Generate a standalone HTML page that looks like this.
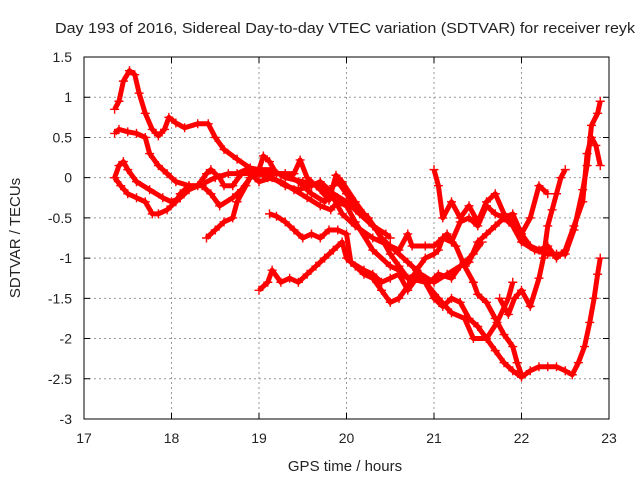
<!DOCTYPE html>
<html><head><meta charset="utf-8">
<style>
html,body{margin:0;padding:0;background:#fff;}
svg text{font-family:"Liberation Sans",sans-serif;fill:#222;}
</style></head>
<body>
<svg id="chart" width="640" height="480" viewBox="0 0 640 480" xmlns="http://www.w3.org/2000/svg">
<rect width="640" height="480" fill="#fff"/>
<text x="345" y="33" font-size="14.5" text-anchor="middle" textLength="580" lengthAdjust="spacingAndGlyphs">Day 193 of 2016, Sidereal Day-to-day VTEC variation (SDTVAR) for receiver reyk</text>
<g id="grid"></g>
<g id="axes"></g>
<g id="series"></g>
<text x="345" y="471" font-size="15" text-anchor="middle">GPS time / hours</text>
<text transform="translate(20,238) rotate(-90)" font-size="15" text-anchor="middle">SDTVAR / TECUs</text>
</svg>
<script>
const xTicks = [17,18,19,20,21,22,23];
const yTicks = [1.5,1,0.5,0,-0.5,-1,-1.5,-2,-2.5,-3];
const yTickLabels = ["1.5","1","0.5","0","-0.5","-1","-1.5","-2","-2.5","-3"];
const track1 = [[17.35,0.85],[17.4,0.95],[17.45,1.2],[17.52,1.33],[17.58,1.28],[17.63,1.05],[17.7,0.8],[17.78,0.6],[17.85,0.52],[17.92,0.6],[17.97,0.75],[18.05,0.68],[18.15,0.62],[18.3,0.67],[18.42,0.67],[18.5,0.5],[18.6,0.35],[18.75,0.23],[18.9,0.12],[19.0,0.1],[19.05,0.27],[19.12,0.2],[19.2,0.05],[19.4,0.05],[19.47,0.22],[19.55,0.0],[19.7,-0.15],[19.8,-0.28],[19.88,0.03],[19.95,-0.05],[20.1,-0.3],[20.2,-0.45],[20.35,-0.65],[20.5,-0.95],[20.6,-1.1],[20.7,-1.25],[20.9,-1.3],[21.05,-1.5],[21.2,-1.68],[21.35,-1.75],[21.45,-2.0],[21.6,-2.0],[21.72,-1.8],[21.85,-1.5],[21.9,-1.3]];
const track2 = [[17.35,0.55],[17.4,0.6],[17.5,0.57],[17.6,0.55],[17.7,0.5],[17.75,0.3],[17.85,0.15],[17.95,0.05],[18.05,-0.05],[18.2,-0.1],[18.35,-0.1],[18.45,-0.2],[18.55,-0.35],[18.7,-0.25],[18.8,-0.15],[18.9,0.0],[19.0,0.05],[19.2,0.05],[19.3,0.05],[19.45,-0.05],[19.6,-0.2],[19.75,-0.3],[19.85,-0.1],[19.9,-0.05],[20.0,-0.2],[20.1,-0.35],[20.25,-0.5],[20.4,-0.75],[20.55,-0.9],[20.7,-1.05],[20.85,-1.2],[21.0,-1.3],[21.15,-1.2],[21.3,-1.1],[21.45,-0.95],[21.55,-0.8]];
const track3 = [[17.35,0.0],[17.4,0.15],[17.45,0.2],[17.5,0.1],[17.6,-0.05],[17.75,-0.15],[17.9,-0.25],[18.0,-0.3],[18.1,-0.25],[18.2,-0.15],[18.35,-0.08],[18.5,0.0],[18.65,0.05],[18.75,0.05],[18.85,0.1],[19.0,0.1],[19.15,0.1],[19.3,0.0],[19.5,-0.05],[19.7,-0.1],[19.85,-0.25],[19.95,-0.45],[20.1,-0.6],[20.3,-0.75],[20.5,-0.85],[20.6,-0.9],[20.7,-0.7],[20.75,-0.85],[20.9,-0.85],[21.0,-0.85],[21.1,-0.75],[21.2,-0.8],[21.3,-0.55],[21.4,-0.5],[21.5,-0.6],[21.6,-0.35],[21.7,-0.45],[21.8,-0.5],[21.9,-0.45],[22.0,-0.7],[22.1,-0.85],[22.2,-0.9],[22.3,-0.85],[22.4,-1.0],[22.5,-0.9],[22.6,-0.6],[22.7,-0.3],[22.75,0.3],[22.8,0.5],[22.85,0.4],[22.9,0.15]];
const track4 = [[17.35,0.0],[17.42,-0.1],[17.5,-0.2],[17.6,-0.25],[17.7,-0.3],[17.78,-0.45],[17.85,-0.45],[17.95,-0.4],[18.05,-0.3],[18.1,-0.2],[18.2,-0.1],[18.3,-0.1],[18.4,0.05],[18.45,0.1],[18.55,0.0],[18.6,-0.1],[18.7,-0.1],[18.8,0.05],[18.9,0.05],[19.0,-0.05],[19.15,0.0],[19.3,-0.1],[19.45,-0.15],[19.6,-0.1],[19.7,-0.05],[19.85,-0.2],[20.0,-0.3],[20.15,-0.45],[20.3,-0.6],[20.45,-0.7],[20.5,-0.75]];
const track5 = [[18.4,-0.75],[18.5,-0.65],[18.6,-0.55],[18.7,-0.5],[18.75,-0.3],[18.85,-0.1],[18.92,0.05],[19.0,0.05],[19.1,0.0],[19.25,-0.05],[19.4,-0.15],[19.55,-0.25],[19.7,-0.35],[19.82,-0.4],[19.9,-0.3],[20.0,-0.35],[20.1,-0.55],[20.3,-0.9],[20.5,-1.1],[20.6,-1.15],[20.7,-1.25],[20.8,-1.2],[20.95,-1.3],[21.05,-1.2],[21.2,-1.25],[21.3,-1.1],[21.4,-1.05],[21.5,-0.8],[21.6,-0.7],[21.7,-0.6],[21.8,-0.5],[21.9,-0.6],[22.0,-0.8],[22.15,-0.9],[22.3,-0.95],[22.4,-0.95],[22.5,-0.95],[22.6,-0.65],[22.7,-0.15],[22.75,0.15],[22.8,0.65],[22.87,0.8],[22.9,0.95]];
const track6 = [[19.12,-0.45],[19.2,-0.48],[19.3,-0.55],[19.4,-0.65],[19.5,-0.75],[19.6,-0.7],[19.7,-0.75],[19.8,-0.65],[19.9,-0.65],[20.0,-0.7],[20.05,-1.05],[20.2,-1.15],[20.3,-1.2],[20.4,-1.3],[20.5,-1.25],[20.6,-1.2],[20.7,-1.4],[20.8,-1.25],[20.9,-1.3],[21.0,-1.5],[21.1,-1.6],[21.2,-1.5],[21.3,-1.55],[21.4,-1.75],[21.5,-1.85],[21.6,-2.0],[21.7,-2.15],[21.8,-2.3],[21.9,-2.4],[22.0,-2.48],[22.1,-2.4],[22.2,-2.35],[22.3,-2.35],[22.4,-2.35],[22.5,-2.4],[22.58,-2.45],[22.65,-2.3],[22.72,-2.1],[22.78,-1.8],[22.83,-1.5],[22.87,-1.2],[22.9,-1.0]];
const track7 = [[19.0,-1.4],[19.1,-1.3],[19.15,-1.15],[19.25,-1.3],[19.35,-1.25],[19.45,-1.3],[19.55,-1.2],[19.65,-1.1],[19.75,-1.0],[19.85,-0.9],[19.95,-0.8],[20.0,-1.0],[20.1,-1.1],[20.2,-1.2],[20.3,-1.25],[20.4,-1.4],[20.5,-1.55],[20.6,-1.5],[20.7,-1.35],[20.8,-1.15],[20.9,-1.0],[21.0,-0.95],[21.05,-0.9],[21.1,-0.75],[21.15,-0.7],[21.25,-0.85],[21.35,-1.1],[21.45,-1.3],[21.5,-1.45],[21.6,-1.55],[21.7,-1.75],[21.8,-1.95],[21.9,-2.1],[21.95,-2.3],[22.0,-2.45]];
const track8 = [[21.75,-1.5],[21.85,-1.7],[21.92,-1.5],[22.0,-1.4],[22.1,-1.6],[22.2,-1.25],[22.25,-1.0],[22.3,-0.6],[22.35,-0.4],[22.4,-0.2],[22.45,0.0],[22.5,0.1]];
const track9 = [[21.0,0.1],[21.05,-0.1],[21.1,-0.5],[21.2,-0.3],[21.3,-0.5],[21.4,-0.35],[21.5,-0.55],[21.6,-0.3],[21.7,-0.2],[21.8,-0.45],[21.9,-0.55],[22.0,-0.7],[22.1,-0.5],[22.2,-0.1],[22.3,-0.2]];
const tracks = [track1,track2,track3,track4,track5,track6,track7,track8,track9];

const L=84,R=609,T=57,B=419;
const X=h=>L+(h-17)/(23-17)*(R-L);
const Y=v=>T+(1.5-v)/(1.5+3)*(B-T);
const NS="http://www.w3.org/2000/svg";
function mk(tag,parent){const e=document.createElementNS(NS,tag);parent.appendChild(e);return e;}
const grid=document.getElementById('grid'),axes=document.getElementById('axes'),ser=document.getElementById('series');

xTicks.forEach((t,i)=>{
  const x=X(t);
  if(i>0&&i<xTicks.length-1){const g=mk('line',grid);
  
  
  g.setAttribute('x1',x);g.setAttribute('x2',x);g.setAttribute('y1',T);g.setAttribute('y2',B);g.setAttribute('stroke','#999');g.setAttribute('stroke-dasharray','2,3');}
  const tk=mk('path',axes);
  
  
  tk.setAttribute('d',`M${x},${B}v-6M${x},${T}v6`);tk.setAttribute('stroke','#000');
  const tx=mk('text',axes);
  
  
  tx.setAttribute('x',x);tx.setAttribute('y',B+24);tx.setAttribute('font-size','14');tx.setAttribute('text-anchor','middle');tx.textContent=t;
});
yTicks.forEach((t,i)=>{
  const y=Y(t);
  if(i>0&&i<yTicks.length-1){const g=mk('line',grid);
  
  
  g.setAttribute('x1',L);g.setAttribute('x2',R);g.setAttribute('y1',y);g.setAttribute('y2',y);g.setAttribute('stroke','#999');g.setAttribute('stroke-dasharray','2,3');}
  const tk=mk('path',axes);
  
  
  tk.setAttribute('d',`M${L},${y}h6M${R},${y}h-6`);tk.setAttribute('stroke','#000');
  const tx=mk('text',axes);
  
  
  tx.setAttribute('x',L-12);tx.setAttribute('y',y+5);tx.setAttribute('font-size','14');tx.setAttribute('text-anchor','end');tx.textContent=yTickLabels[i];
});
const frame=mk('rect',axes);


frame.setAttribute('x',L);frame.setAttribute('y',T);frame.setAttribute('width',R-L);frame.setAttribute('height',B-T);frame.setAttribute('fill','none');frame.setAttribute('stroke','#000');

tracks.forEach((tr,k)=>{
  const pl=mk('polyline',ser);
  
  
  pl.setAttribute('points',tr.map(p=>X(p[0])+','+Y(p[1])).join(' '));
  pl.setAttribute('fill','none');pl.setAttribute('stroke','#f00');pl.setAttribute('stroke-width','5');pl.setAttribute('stroke-linejoin','round');
  let d='';
  tr.forEach(p=>{const x=X(p[0]),y=Y(p[1]);d+=`M${x-4.5},${y}h9M${x},${y-4.5}v9`;});
  const m=mk('path',ser);
  
  
  m.setAttribute('d',d);m.setAttribute('stroke','#f00');m.setAttribute('stroke-width','1.4');
});
</script>
</body></html>
